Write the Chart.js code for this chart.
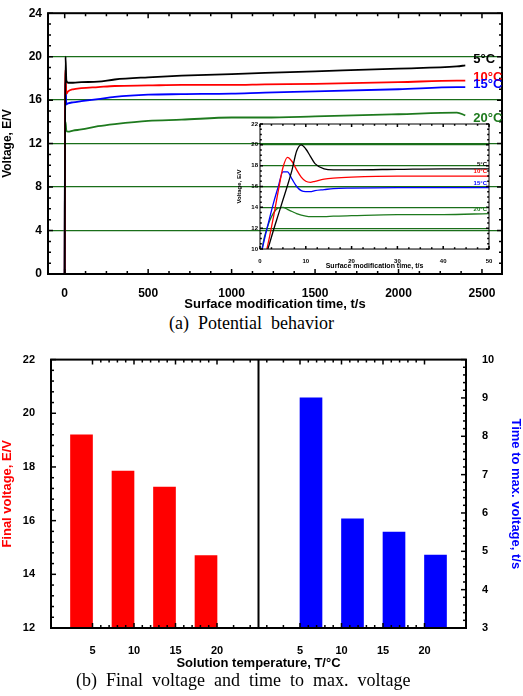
<!DOCTYPE html>
<html><head><meta charset="utf-8">
<script src="https://cdn.jsdelivr.net/npm/chart.js@4/dist/chart.umd.min.js"></script>
<style>
body{margin:0;background:#fff;width:523px;height:696px;position:relative;overflow:hidden}
canvas{position:absolute}
.cap{position:absolute;font-family:"Liberation Serif",serif;font-size:18px;white-space:nowrap}
</style></head><body>
<canvas id="mainChart" style="left:0px;top:0px" width="523" height="312"></canvas>
<canvas id="insetChart" style="left:236px;top:118px" width="258" height="152"></canvas>
<div class="cap" style="left:169px;top:313px">(a)&nbsp; Potential&nbsp; behavior</div>
<canvas id="barChart" style="left:0px;top:345px" width="523" height="330"></canvas>
<div class="cap" style="left:76px;top:670px">(b)&nbsp; Final&nbsp; voltage&nbsp; and&nbsp; time&nbsp; to&nbsp; max.&nbsp; voltage</div>
<script>
// main curves, t/s
const mainTime = [0, 2, 5, 10, 20, 50, 100, 200, 300, 500, 700, 1000, 1200, 1500, 2000, 2350, 2400];
const main5 = [0, 12, 20, 17.8, 17.6, 17.6, 17.65, 17.7, 17.9, 18.1, 18.25, 18.4, 18.5, 18.65, 18.9, 19.1, 19.2];
const main10 = [0, 14, 18.8, 16.6, 16.8, 17.0, 17.1, 17.2, 17.3, 17.35, 17.4, 17.4, 17.45, 17.5, 17.65, 17.8, 17.8];
const main15 = [0, 15, 17.6, 15.6, 15.7, 15.8, 15.9, 16.1, 16.3, 16.5, 16.55, 16.6, 16.7, 16.8, 17.0, 17.2, 17.2];
const main20 = [0, 13.5, 14.0, 13.2, 13.1, 13.2, 13.3, 13.6, 13.8, 14.1, 14.2, 14.4, 14.4, 14.5, 14.7, 14.85, 14.6];
const mainXTicks = [0, 500, 1000, 1500, 2000, 2500];

// inset, first 50 s
const insetTime = [0, 1, 2, 3, 4, 5, 6, 7, 8, 9, 10, 11, 12, 14, 16, 20, 30, 40, 50];
const inset5 = [7.6, 9.0, 10.4, 11.9, 13.3, 14.7, 16.1, 17.6, 19.4, 20.0, 19.6, 18.9, 18.2, 17.7, 17.6, 17.6, 17.65, 17.7, 17.7];
const inset10 = [7, 9, 11, 13.2, 15.6, 17.8, 18.8, 18.4, 17.6, 16.9, 16.5, 16.4, 16.5, 16.7, 16.8, 16.9, 17.0, 17.0, 17.0];
const inset15 = [9, 11, 12.8, 14.5, 16, 17.4, 17.4, 16.7, 16.0, 15.6, 15.5, 15.5, 15.6, 15.7, 15.8, 15.85, 15.9, 15.9, 15.9];
const inset20 = [9, 11.2, 12.6, 13.5, 13.95, 14.0, 13.8, 13.6, 13.4, 13.25, 13.15, 13.1, 13.1, 13.1, 13.15, 13.2, 13.3, 13.3, 13.4];

const seriesLabels = ['5°C', '10°C', '15°C', '20°C'];
const seriesColors = ['#000000', '#ff0000', '#0000ff', '#1e7a1e'];

// bar chart
const tempLabels = ['5', '10', '15', '20'];
const finalVoltage = [19.2, 17.85, 17.25, 14.7];
const timeToMax = [9.0, 5.85, 5.5, 4.9];

const GRID = '#1a6e1a';
const boldFont = (s) => ({ family: 'Liberation Sans, Arial, sans-serif', size: s, weight: 'bold' });
const plain = v => String(v);

function pairs(xs, ys) { return xs.map((x, i) => ({ x, y: ys[i] })); }

// frame + inward ticks
const framePlugin = {
  id: 'frame',
  afterDatasetsDraw(chart, args, opts) {
    const { ctx, chartArea: a } = chart;
    ctx.save();
    ctx.strokeStyle = '#000';
    ctx.lineWidth = opts.lw || 2;
    ctx.strokeRect(a.left, a.top, a.right - a.left, a.bottom - a.top);
    ctx.lineWidth = 1.5;
    const len = opts.len || 5;
    for (const id of Object.keys(chart.scales)) {
      const s = chart.scales[id];
      const ticks = s.ticks.map(t => t.value);
      const minor = [];
      for (let i = 0; i < ticks.length - 1; i++) {
        const step = (ticks[i + 1] - ticks[i]) / (opts.minor || 2);
        for (let k = 1; k < (opts.minor || 2); k++) minor.push(ticks[i] + k * step);
      }
      const draw = (v, l) => {
        const p = s.getPixelForValue(v);
        ctx.beginPath();
        if (s.isHorizontal()) {
          if (p < a.left || p > a.right) return;
          ctx.moveTo(p, a.bottom); ctx.lineTo(p, a.bottom - l);
          ctx.moveTo(p, a.top); ctx.lineTo(p, a.top + l);
        } else {
          if (p < a.top - 1 || p > a.bottom + 1) return;
          if (s.position === 'left' && !opts.noMirror) { ctx.moveTo(a.left, p); ctx.lineTo(a.left + l, p); ctx.moveTo(a.right, p); ctx.lineTo(a.right - l, p); }
          else if (s.position === 'left') { ctx.moveTo(a.left, p); ctx.lineTo(a.left + l, p); }
          else { ctx.moveTo(a.right, p); ctx.lineTo(a.right - l, p); }
        }
        ctx.stroke();
      };
      ticks.forEach(v => draw(v, len));
      minor.forEach(v => draw(v, len * 0.6));
    }
    if (opts.divider !== undefined) {
      const x = chart.scales.x.getPixelForValue(opts.divider);
      ctx.lineWidth = 2;
      ctx.beginPath(); ctx.moveTo(x, a.top); ctx.lineTo(x, a.bottom); ctx.stroke();
    }
    ctx.restore();
  }
};

// series names at line ends
const endLabelPlugin = {
  id: 'endLabels',
  afterDatasetsDraw(chart, args, opts) {
    if (!opts.show) return;
    const { ctx } = chart;
    ctx.save();
    ctx.font = `bold ${opts.size}px Liberation Sans, Arial, sans-serif`;
    ctx.textBaseline = 'middle';
    chart.data.datasets.forEach((ds, i) => {
      const last = ds.data[ds.data.length - 1];
      const x = chart.scales.x.getPixelForValue(last.x) + opts.dx;
      const y = chart.scales.y.getPixelForValue(last.y) + (opts.dy[i] || 0);
      ctx.fillStyle = ds.borderColor;
      ctx.textAlign = opts.align;
      ctx.fillText(seriesLabels[i], x, y);
    });
    ctx.restore();
  }
};

function lineSets(time, arrs, width) {
  return arrs.map((a, i) => ({
    data: pairs(time, a), borderColor: seriesColors[i], borderWidth: width,
    pointRadius: 0, cubicInterpolationMode: 'monotone', fill: false
  }));
}

new Chart(document.getElementById('mainChart'), {
  type: 'line',
  data: { datasets: lineSets(mainTime, [main5, main10, main15, main20], 1.8) },
  options: {
    animation: false, responsive: false, events: [],
    layout: { padding: { top: 9, right: 21 } },
    plugins: {
      legend: { display: false }, tooltip: { enabled: false },
      frame: { len: 5, minor: 4 },
      endLabels: { show: true, size: 13, dx: 8, align: 'left', dy: [-6, -3, -3, 3] }
    },
    scales: {
      x: {
        type: 'linear', min: -100, max: 2620,
        afterBuildTicks: s => { s.ticks = mainXTicks.map(v => ({ value: v })); },
        afterFit: s => { s.height = 38; },
        grid: { display: false },
        ticks: { color: '#000', font: boldFont(12), padding: 4, callback: plain },
        title: { display: true, text: 'Surface modification time, t/s', color: '#000', font: boldFont(13), padding: 0 }
      },
      y: {
        min: 0, max: 24,
        ticks: { stepSize: 4, color: '#000', font: boldFont(12), padding: 6, callback: plain },
        afterFit: s => { s.width = 48; },
        grid: { drawTicks: false, color: c => (c.tick.value > 0 && c.tick.value < 24) ? GRID : 'rgba(0,0,0,0)', lineWidth: 1.3 },
        border: { display: false },
        title: { display: true, text: 'Voltage, E/V', color: '#000', font: boldFont(12), padding: 0 }
      }
    }
  },
  plugins: [framePlugin, endLabelPlugin]
});

new Chart(document.getElementById('insetChart'), {
  type: 'line',
  data: { datasets: lineSets(insetTime, [inset5, inset10, inset15, inset20], 1.3) },
  options: {
    animation: false, responsive: false, events: [],
    layout: { padding: { top: 6, right: 5 } },
    plugins: {
      legend: { display: false }, tooltip: { enabled: false },
      frame: { lw: 1, len: 3, minor: 4 },
      endLabels: { show: true, size: 6, dx: -2, align: 'right', dy: [-4, -5, -4, -4] }
    },
    scales: {
      x: {
        type: 'linear', min: 0, max: 50,
        ticks: { stepSize: 10, color: '#000', font: boldFont(6), padding: 1, callback: plain },
        afterFit: s => { s.height = 21; },
        grid: { display: false },
        title: { display: true, text: 'Surface modification time, t/s', color: '#000', font: boldFont(7), padding: 0 }
      },
      y: {
        min: 10, max: 22,
        ticks: { stepSize: 2, color: '#000', font: boldFont(6), padding: 2, callback: plain },
        afterFit: s => { s.width = 24; },
        grid: { drawTicks: false, color: c => (c.tick.value > 10 && c.tick.value < 22) ? GRID : 'rgba(0,0,0,0)', lineWidth: 1.3 },
        border: { display: false },
        title: { display: true, text: 'Voltage, E/V', color: '#000', font: boldFont(6), padding: 0 }
      }
    }
  },
  plugins: [framePlugin, endLabelPlugin]
});

// bar slots: left half 1..4, divider at 5, right half 6..9
const barTicks = [1, 2, 3, 4, 6, 7, 8, 9];
new Chart(document.getElementById('barChart'), {
  type: 'bar',
  data: {
    datasets: [
      { data: finalVoltage.map((v, i) => ({ x: i + 1, y: v })), backgroundColor: '#ff0000', yAxisID: 'y', barThickness: 22 },
      { data: timeToMax.map((v, i) => ({ x: i + 6, y: v })), backgroundColor: '#0000ff', yAxisID: 'y2', barThickness: 22 }
    ]
  },
  options: {
    animation: false, responsive: false, events: [],
    layout: { padding: { top: 12 } },
    plugins: { legend: { display: false }, tooltip: { enabled: false }, frame: { len: 5, minor: 5, noMirror: true, divider: 5 } },
    scales: {
      x: {
        type: 'linear', min: 0, max: 10, offset: false,
        afterBuildTicks: s => { s.ticks = barTicks.map(v => ({ value: v })); },
        afterFit: s => { s.height = 47; },
        grid: { display: false },
        ticks: { color: '#000', font: boldFont(11), padding: 8, callback: v => tempLabels[(v - 1) % 5] },
        title: { display: true, text: 'Solution temperature, T/°C', color: '#000', font: boldFont(13), padding: { top: 10 } }
      },
      y: {
        position: 'left', min: 12, max: 22,
        ticks: { stepSize: 2, color: '#000', font: boldFont(11), padding: 8, callback: plain },
        afterFit: s => { s.width = 51; },
        grid: { display: false }, border: { display: false },
        title: { display: true, text: 'Final voltage, E/V', color: '#ff0000', font: boldFont(13), padding: 0 }
      },
      y2: {
        position: 'right', min: 3, max: 10,
        ticks: { stepSize: 1, color: '#000', font: boldFont(11), padding: 8, callback: plain },
        afterFit: s => { s.width = 57; },
        grid: { display: false }, border: { display: false },
        title: { display: true, text: 'Time to max. voltage, t/s', color: '#0000ff', font: boldFont(13), padding: 0 }
      }
    }
  },
  plugins: [framePlugin]
});
</script>
</body></html>
